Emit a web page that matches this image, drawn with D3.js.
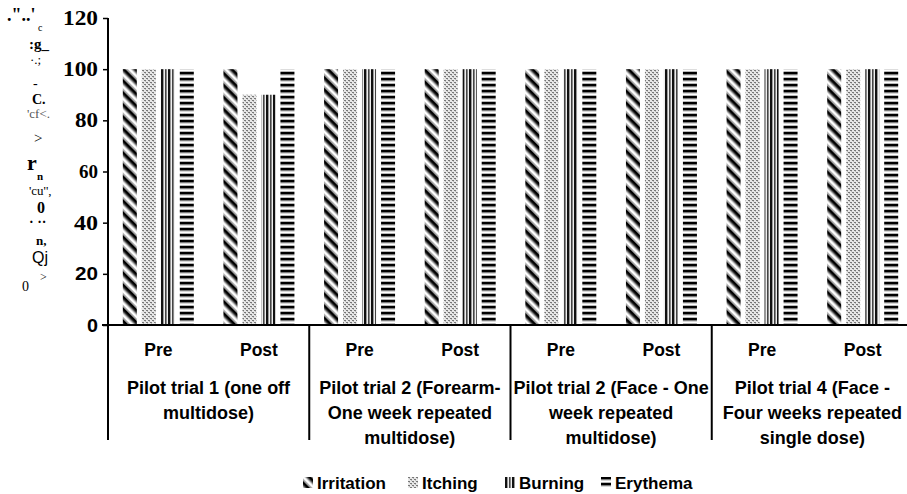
<!DOCTYPE html>
<html><head><meta charset="utf-8">
<script src="https://cdn.jsdelivr.net/npm/d3@7"></script>
<style>
html,body{margin:0;padding:0;background:#fff;}
svg{display:block;}
</style></head>
<body>
<svg id="c" width="907" height="494"></svg>
<script>
// ---- data ----
const groups = ["Pilot trial 1 (one off multidose)", "Pilot trial 2 (Forearm- One week repeated multidose)", "Pilot trial 2 (Face - One week repeated multidose)", "Pilot trial 4 (Face - Four weeks repeated single dose)"];
const groupLines = [["Pilot trial 1 (one off", "multidose)"], ["Pilot trial 2 (Forearm-", "One week repeated", "multidose)"], ["Pilot trial 2 (Face - One", "week repeated", "multidose)"], ["Pilot trial 4 (Face -", "Four weeks repeated", "single dose)"]];
const phases = ["Pre", "Post"];
const series = ["Irritation", "Itching", "Burning", "Erythema"];
const irritation = [100, 100, 100, 100, 100, 100, 100, 100];
const itching    = [100, 90, 100, 100, 100, 100, 100, 100];
const burning    = [100, 90, 100, 100, 100, 100, 100, 100];
const erythema   = [100, 100, 100, 100, 100, 100, 100, 100];
const yTicks = [0, 20, 40, 60, 80, 100, 120];
const yTickLabels = ["0", "20", "40", "60", "80", "100", "120"];
// garbled axis-title fragments as they appear in the picture
const yTitleFrags = [".\"..'", "c", ":g_", "·.;", "-", "C.", "'cf<.", ">", "r", "n", "'cu'',", "0", "· ··", "n,", "Qj", ">", "0"];

const seriesValues = [irritation, itching, burning, erythema];

// ---- layout ----
const svg = d3.select("#c");
const x0 = 108, x1 = 913, yTop = 18, yBase = 325, yBottom = 440;
const y = d3.scaleLinear().domain([0, 120]).range([yBase, yTop]);

const subcats = [];
groups.forEach((g, gi) => phases.forEach((p, pi) => subcats.push(gi * 2 + pi)));
const xg = d3.scaleBand().domain(d3.range(groups.length)).range([x0, x1]);
const xs = d3.scaleBand().domain(d3.range(subcats.length)).range([x0, x1]);
const xb = d3.scaleBand().domain(series).range([0, xs.bandwidth()]).paddingInner(0.263).paddingOuter(0.78);

// ---- patterns ----
const defs = svg.append("defs");
// Irritation: diagonal "\" stripes with soft edges
const pI = defs.append("pattern").attr("id", "pI").attr("patternUnits", "userSpaceOnUse")
  .attr("width", 8.5).attr("height", 8.5).attr("patternTransform", "rotate(-45)");
pI.append("rect").attr("width", 8.5).attr("height", 8.5).attr("fill", "#fff");
pI.append("rect").attr("x", 1.5).attr("width", 1.5).attr("height", 8.5).attr("fill", "#777");
pI.append("rect").attr("x", 3).attr("width", 3).attr("height", 8.5).attr("fill", "#000");
pI.append("rect").attr("x", 6).attr("width", 1.2).attr("height", 8.5).attr("fill", "#888");
// Itching: fine dotted grey
const pT = defs.append("pattern").attr("id", "pT").attr("patternUnits", "userSpaceOnUse")
  .attr("width", 4).attr("height", 4);
pT.append("rect").attr("width", 4).attr("height", 4).attr("fill", "#e8e8e8");
pT.append("rect").attr("x", 0).attr("y", 0).attr("width", 2).attr("height", 1).attr("fill", "#777");
pT.append("rect").attr("x", 2).attr("y", 2).attr("width", 2).attr("height", 1).attr("fill", "#777");
pT.append("rect").attr("x", 1).attr("y", 1).attr("width", 1).attr("height", 1).attr("fill", "#bbb");
pT.append("rect").attr("x", 3).attr("y", 3).attr("width", 1).attr("height", 1).attr("fill", "#bbb");
// Burning: vertical stripes
const pB = defs.append("pattern").attr("id", "pB").attr("patternUnits", "userSpaceOnUse")
  .attr("width", 7).attr("height", 4);
pB.append("rect").attr("width", 7).attr("height", 4).attr("fill", "#eee");
pB.append("rect").attr("x", 0).attr("width", 2).attr("height", 4).attr("fill", "#111");
pB.append("rect").attr("x", 2).attr("width", 1).attr("height", 4).attr("fill", "#999");
pB.append("rect").attr("x", 4).attr("width", 1).attr("height", 4).attr("fill", "#444");
pB.append("rect").attr("x", 5).attr("width", 1).attr("height", 4).attr("fill", "#888");
// Erythema: horizontal stripes
const pE = defs.append("pattern").attr("id", "pE").attr("patternUnits", "userSpaceOnUse")
  .attr("width", 4).attr("height", 6);
pE.append("rect").attr("width", 4).attr("height", 6).attr("fill", "#fff");
pE.append("rect").attr("y", 0).attr("width", 4).attr("height", 2.5).attr("fill", "#000");
pE.append("rect").attr("y", 2.5).attr("width", 4).attr("height", 0.8).attr("fill", "#777");
pE.append("rect").attr("y", 5.3).attr("width", 4).attr("height", 0.7).attr("fill", "#999");
const fills = { "Irritation": "url(#pI)", "Itching": "url(#pT)", "Burning": "url(#pB)", "Erythema": "url(#pE)" };

// ---- bars ----
const barData = [];
subcats.forEach(i => series.forEach((s, si) => barData.push({ i, s, v: seriesValues[si][i] })));
svg.append("g").selectAll("rect").data(barData).join("rect")
  .attr("x", d => xs(d.i) + xb(d.s))
  .attr("width", xb.bandwidth())
  .attr("y", d => y(d.v))
  .attr("height", d => y(0) - y(d.v))
  .attr("fill", d => fills[d.s]);

// ---- y axis ----
const tickStyle = {
  0:   { fam: "Liberation Sans, Arial, sans-serif", size: 19, len: 11 },
  20:  { fam: "Liberation Sans, Arial, sans-serif", size: 19, len: 23 },
  40:  { fam: "Liberation Serif, Times New Roman, serif", size: 21, len: 24 },
  60:  { fam: "Liberation Serif, Times New Roman, serif", size: 19, len: 19 },
  80:  { fam: "Liberation Serif, Times New Roman, serif", size: 20, len: 23 },
  100: { fam: "Liberation Serif, Times New Roman, serif", size: 20, len: 35 },
  120: { fam: "Liberation Serif, Times New Roman, serif", size: 20, len: 35 }
};
const yAxis = d3.axisLeft(y).tickValues(yTicks).tickSize(5).tickFormat((d, i) => yTickLabels[i]);
const ga = svg.append("g").attr("transform", `translate(${x0},0)`).call(yAxis);
ga.select(".domain").remove();
ga.selectAll(".tick line").attr("stroke", "#000").attr("stroke-width", 1.5);
ga.selectAll(".tick text").attr("x", -10).attr("fill", "#000")
  .attr("font-weight", "bold")
  .attr("font-family", d => tickStyle[d].fam)
  .attr("font-size", d => tickStyle[d].size)
  .attr("textLength", d => tickStyle[d].len)
  .attr("lengthAdjust", "spacingAndGlyphs");
svg.append("line").attr("x1", x0).attr("x2", x0).attr("y1", y(120)).attr("y2", yBottom)
  .attr("stroke", "#000").attr("stroke-width", 2);

// ---- x axis ----
svg.append("line").attr("x1", x0 - 6).attr("x2", x1).attr("y1", yBase).attr("y2", yBase)
  .attr("stroke", "#000").attr("stroke-width", 2);
svg.append("g").selectAll("line").data(d3.range(1, groups.length + 1)).join("line")
  .attr("x1", d => d < groups.length ? xg(d) : x1).attr("x2", d => d < groups.length ? xg(d) : x1)
  .attr("y1", yBase).attr("y2", yBottom).attr("stroke", "#000").attr("stroke-width", 2);

svg.append("g").selectAll("text").data(subcats).join("text")
  .attr("x", d => xs(d) + xs.bandwidth() / 2).attr("y", 356)
  .attr("text-anchor", "middle").attr("font-family", "Liberation Sans, Arial, sans-serif")
  .attr("font-weight", "bold").attr("font-size", 17.5).attr("fill", "#000")
  .text(d => phases[d % 2]);

const gl = svg.append("g").selectAll("text").data(groupLines).join("text")
  .attr("text-anchor", "middle").attr("font-family", "Liberation Sans, Arial, sans-serif")
  .attr("font-weight", "bold").attr("font-size", 18).attr("fill", "#000");
gl.each(function (lines, gi) {
  d3.select(this).selectAll("tspan").data(lines).join("tspan")
    .attr("x", xg(gi) + xg.bandwidth() / 2)
    .attr("y", (d, li) => 393.5 + li * 25)
    .text(d => d);
});

// ---- y title fragments ----
const fragPos = [[7, 21], [38, 31], [29, 49], [30, 64], [33, 88], [32, 104], [27, 118], [34, 143], [27, 170], [37, 180], [29, 195], [37, 213], [29, 227], [36, 245], [32, 263], [40, 281], [22, 291]];
const fragSize = [18, 10, 15, 13, 14, 14, 13, 15, 22, 11, 13, 16, 14, 13, 16, 12, 14];
const fragBold = [0, 2, 5, 8, 9, 11, 12, 13];
svg.append("g").selectAll("text").data(yTitleFrags).join("text")
  .attr("x", (d, i) => fragPos[i][0]).attr("y", (d, i) => fragPos[i][1])
  .attr("font-family", (d, i) => i === 14 ? "Liberation Sans, Arial, sans-serif" : "Liberation Serif, Times New Roman, serif")
  .attr("font-size", (d, i) => fragSize[i])
  .attr("font-weight", (d, i) => fragBold.includes(i) ? "bold" : "normal")
  .attr("fill", (d, i) => i === 6 ? "#555" : "#000")
  .text(d => d);

// ---- legend ----
const legX = [303, 408, 505, 601];
const lg = svg.append("g").selectAll("g").data(series).join("g")
  .attr("transform", (d, i) => `translate(${legX[i]},477)`);
lg.append("rect").attr("width", 10).attr("height", 11).attr("fill", d => fills[d]);
lg.append("text").attr("x", 14).attr("y", 12)
  .attr("font-family", "Liberation Sans, Arial, sans-serif").attr("font-weight", "bold")
  .attr("font-size", 17).attr("fill", "#000")
  .text(d => d);
</script>
</body></html>
